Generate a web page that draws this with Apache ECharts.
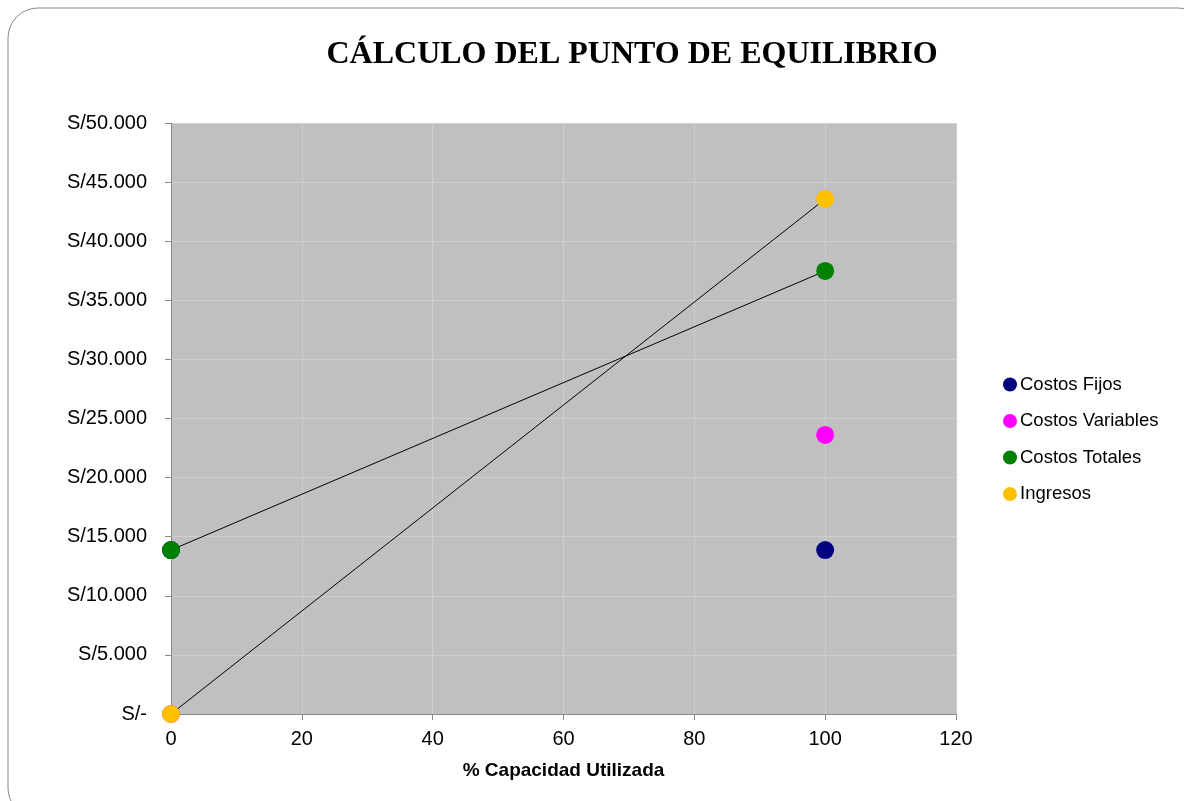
<!DOCTYPE html>
<html><head><meta charset="utf-8">
<script src="https://cdn.jsdelivr.net/npm/echarts@6/dist/echarts.min.js"></script>
<style>html,body{margin:0;padding:0;background:#fff}#c{width:1184px;height:801px}</style>
</head><body><div id="c"></div>
<script>
const capacity = [0, 100];
const costosFijos = [13870, 13870];
const costosVariables = [0, 23610];
const costosTotales = [13870, 37480];
const ingresos = [0, 43570];
const seriesNames = ['Costos Fijos', 'Costos Variables', 'Costos Totales', 'Ingresos'];
const seriesColors = ['#000080', '#FF00FF', '#008000', '#FFC000'];
const seriesLines = [false, false, true, true];
const seriesData = [costosFijos, costosVariables, costosTotales, ingresos];

const chart = echarts.init(document.getElementById('c'));
const fmt = v => v === 0 ? 'S/-' : 'S/' + v.toLocaleString('de-DE');
chart.setOption({
  animation: false,
  backgroundColor: '#fff',
  graphic: [{type: 'rect', shape: {x: 8, y: 8, width: 1200, height: 810, r: 30}, style: {fill: 'none', stroke: '#888', lineWidth: 1}}],
  title: {text: 'CÁLCULO DEL PUNTO DE EQUILIBRIO', left: 627, textAlign: 'center', top: 34,
    textStyle: {fontFamily: 'Liberation Serif', fontWeight: 'bold', fontSize: 32, color: '#000'}},
  grid: {left: 171, top: 123, width: 785, height: 591, backgroundColor: '#c0c0c0', show: true, borderWidth: 0},
  legend: {orient: 'vertical', left: 998, top: 370, itemGap: 17.5, itemWidth: 14, itemHeight: 14, icon: 'circle',
    textStyle: {fontFamily: 'Liberation Sans', fontSize: 18.5, color: '#000', padding: [0,0,0,-2]},
    data: seriesNames},
  xAxis: {type: 'value', min: 0, max: 120, interval: 20,
    name: '% Capacidad Utilizada', nameLocation: 'middle', nameGap: 47,
    nameTextStyle: {fontFamily: 'Liberation Sans', fontWeight: 'bold', fontSize: 19, color: '#000'},
    axisLine: {show: true, lineStyle: {color: '#888'}}, axisTick: {show: true, length: 6, lineStyle: {color: '#888'}},
    axisLabel: {fontFamily: 'Liberation Sans', fontSize: 20, color: '#000', margin: 15},
    splitLine: {show: true, lineStyle: {color: '#cfcfcf'}}},
  yAxis: {type: 'value', min: 0, max: 50000, interval: 5000,
    axisLine: {show: true, lineStyle: {color: '#888'}}, axisTick: {show: true, length: 6, lineStyle: {color: '#888'}},
    axisLabel: {fontFamily: 'Liberation Sans', fontSize: 20, color: '#000', margin: 24, formatter: fmt},
    splitLine: {show: true, lineStyle: {color: '#cfcfcf'}}},
  series: seriesNames.map((n, i) => ({
    name: n, type: 'line', symbol: 'circle', symbolSize: 18,
    data: capacity.map((x, j) => [x, seriesData[i][j]]),
    itemStyle: {color: seriesColors[i]},
    lineStyle: {color: '#000', width: seriesLines[i] ? 1 : 0, opacity: seriesLines[i] ? 1 : 0}
  }))
});
</script></body></html>
